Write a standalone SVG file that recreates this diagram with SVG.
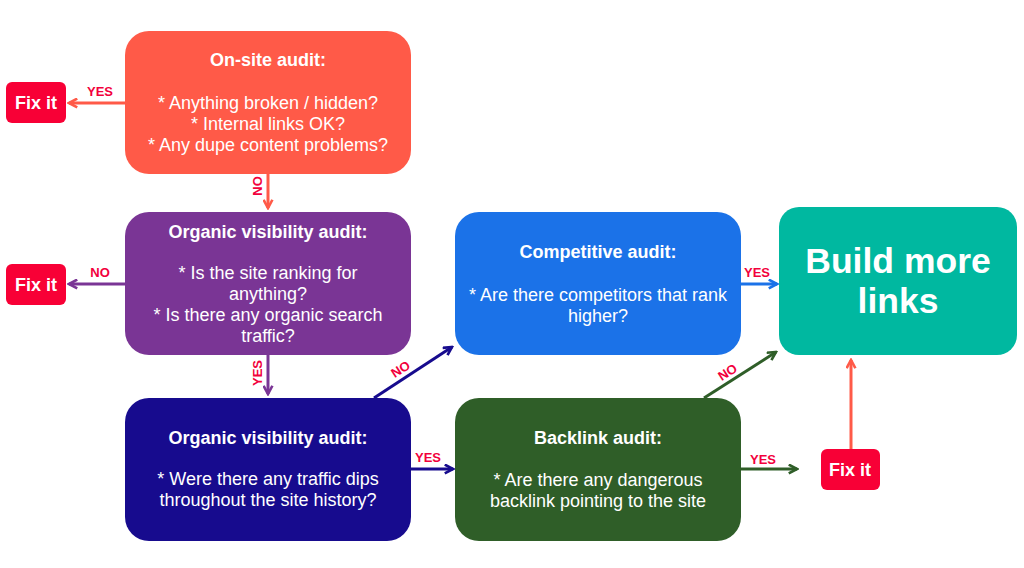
<svg xmlns="http://www.w3.org/2000/svg" width="1024" height="568" viewBox="0 0 1024 568">
<defs>
<style>
.t{font-family:"Liberation Sans",Arial,sans-serif;fill:#fff;text-anchor:middle;font-size:18px}
.b{font-weight:bold}
.lbl{font-family:"Liberation Sans",Arial,sans-serif;fill:#f2003c;font-weight:bold;font-size:13px;text-anchor:middle}
.fix{fill:#f80036}
.c{fill:none;stroke-width:3}
</style>
<marker id="mTom" viewBox="0 0 10 10" refX="8.5" refY="5" markerWidth="11" markerHeight="11" markerUnits="userSpaceOnUse" orient="auto"><path d="M1,1 L8.5,5 L1,9" fill="none" stroke="#ff5a48" stroke-width="2.4"/></marker>
<marker id="mPur" viewBox="0 0 10 10" refX="8.5" refY="5" markerWidth="11" markerHeight="11" markerUnits="userSpaceOnUse" orient="auto"><path d="M1,1 L8.5,5 L1,9" fill="none" stroke="#7a3595" stroke-width="2.4"/></marker>
<marker id="mDb" viewBox="0 0 10 10" refX="8.5" refY="5" markerWidth="11" markerHeight="11" markerUnits="userSpaceOnUse" orient="auto"><path d="M1,1 L8.5,5 L1,9" fill="none" stroke="#170b8e" stroke-width="2.4"/></marker>
<marker id="mBl" viewBox="0 0 10 10" refX="8.5" refY="5" markerWidth="11" markerHeight="11" markerUnits="userSpaceOnUse" orient="auto"><path d="M1,1 L8.5,5 L1,9" fill="none" stroke="#1b72e8" stroke-width="2.4"/></marker>
<marker id="mGr" viewBox="0 0 10 10" refX="8.5" refY="5" markerWidth="11" markerHeight="11" markerUnits="userSpaceOnUse" orient="auto"><path d="M1,1 L8.5,5 L1,9" fill="none" stroke="#2f5e28" stroke-width="2.4"/></marker>
</defs>
<rect width="1024" height="568" fill="#fff"/>

<g id="connectors">
<line class="c" stroke="#ff5a48" x1="125" y1="103" x2="69" y2="103" marker-end="url(#mTom)"/>
<text class="lbl" x="100" y="96">YES</text>
<line class="c" stroke="#ff5a48" x1="268" y1="174" x2="268" y2="208" marker-end="url(#mTom)"/>
<text class="lbl" transform="translate(262,186) rotate(-90)">NO</text>
<line class="c" stroke="#7a3595" x1="125" y1="284" x2="69" y2="284" marker-end="url(#mPur)"/>
<text class="lbl" x="100" y="277">NO</text>
<line class="c" stroke="#7a3595" x1="268" y1="355" x2="268" y2="394" marker-end="url(#mPur)"/>
<text class="lbl" transform="translate(262,373) rotate(-90)">YES</text>
<line class="c" stroke="#170b8e" x1="374" y1="398" x2="452" y2="347" marker-end="url(#mDb)"/>
<text class="lbl" transform="translate(403,373) rotate(-33)">NO</text>
<line class="c" stroke="#170b8e" x1="411" y1="469" x2="453" y2="469" marker-end="url(#mDb)"/>
<text class="lbl" x="428" y="462">YES</text>
<line class="c" stroke="#1b72e8" x1="741" y1="284" x2="777" y2="284" marker-end="url(#mBl)"/>
<text class="lbl" x="757" y="277">YES</text>
<line class="c" stroke="#2f5e28" x1="704" y1="398" x2="776" y2="352" marker-end="url(#mGr)"/>
<text class="lbl" transform="translate(730,376) rotate(-33)">NO</text>
<line class="c" stroke="#2f5e28" x1="741" y1="469" x2="797" y2="469" marker-end="url(#mGr)"/>
<text class="lbl" x="763" y="464">YES</text>
<line class="c" stroke="#ff5a48" x1="851" y1="449" x2="851" y2="360" marker-end="url(#mTom)"/>
</g>

<g id="onsite">
<rect x="125" y="31" width="286" height="143" rx="24" fill="#ff5a48"/>
<text class="t b" x="268" y="66">On-site audit:</text>
<text class="t" x="268" y="109">* Anything broken / hidden?</text>
<text class="t" x="268" y="130">* Internal links OK?</text>
<text class="t" x="268" y="151">* Any dupe content problems?</text>
</g>

<g id="fix1">
<rect class="fix" x="6" y="82" width="60" height="41" rx="6"/>
<text class="t b" x="36" y="109">Fix it</text>
</g>

<g id="organic1">
<rect x="125" y="212" width="286" height="143" rx="24" fill="#7a3595"/>
<text class="t b" x="268" y="238">Organic visibility audit:</text>
<text class="t" x="268" y="279">* Is the site ranking for</text>
<text class="t" x="268" y="300">anything?</text>
<text class="t" x="268" y="321">* Is there any organic search</text>
<text class="t" x="268" y="342">traffic?</text>
</g>

<g id="fix2">
<rect class="fix" x="6" y="264" width="60" height="41" rx="6"/>
<text class="t b" x="36" y="291">Fix it</text>
</g>

<g id="competitive">
<rect x="455" y="212" width="286" height="143" rx="24" fill="#1b72e8"/>
<text class="t b" x="598" y="258">Competitive audit:</text>
<text class="t" x="598" y="301">* Are there competitors that rank</text>
<text class="t" x="598" y="322">higher?</text>
</g>

<g id="build">
<rect x="779" y="207" width="238" height="148" rx="20" fill="#00b8a0"/>
<text class="t b" x="898" y="273" style="font-size:35.5px">Build more</text>
<text class="t b" x="898" y="313" style="font-size:35.5px">links</text>
</g>

<g id="organic2">
<rect x="125" y="398" width="286" height="143" rx="24" fill="#170b8e"/>
<text class="t b" x="268" y="444">Organic visibility audit:</text>
<text class="t" x="268" y="485">* Were there any traffic dips</text>
<text class="t" x="268" y="506">throughout the site history?</text>
</g>

<g id="backlink">
<rect x="455" y="398" width="286" height="143" rx="24" fill="#2f5e28"/>
<text class="t b" x="598" y="444">Backlink audit:</text>
<text class="t" x="598" y="486">* Are there any dangerous</text>
<text class="t" x="598" y="507">backlink pointing to the site</text>
</g>

<g id="fix3">
<rect class="fix" x="821" y="449" width="59" height="41" rx="6"/>
<text class="t b" x="850" y="476">Fix it</text>
</g>
</svg>
